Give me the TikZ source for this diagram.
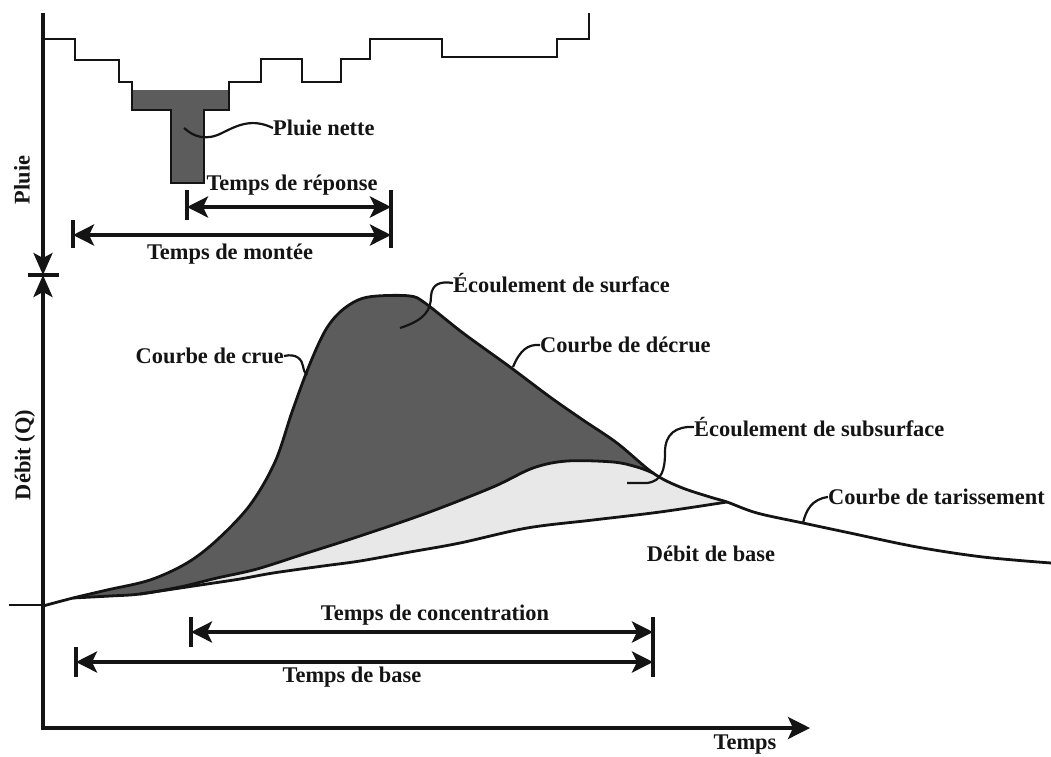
\documentclass[tikz,border=0pt]{standalone}
\usepackage{fontspec}
\setmainfont{Liberation Serif}
\usetikzlibrary{arrows.meta}
\definecolor{dark}{RGB}{92,92,92}
\definecolor{light}{RGB}{232,232,232}
\definecolor{ink}{RGB}{20,20,20}
\begin{document}
\begin{tikzpicture}[x=1pt,y=-1pt,
  lbl/.style={font=\fontsize{22.4}{25}\selectfont\bfseries, inner sep=0pt, text=ink},
  leader/.style={line width=2.2pt, ink},
  curve/.style={line width=2.8pt, line join=round, ink},
  hyeto/.style={line width=2.8pt, ink, line join=miter},
  span/.style={line width=4pt, ink, {Stealth[length=21pt,width=21pt,inset=5pt]}-{Stealth[length=21pt,width=21pt,inset=5pt]}},
  bar/.style={line width=3.2pt, ink},
  axis/.style={line width=3.4pt, ink},
  ]
\useasboundingbox (0,0) rectangle (1051,756);

% ---------- hyetograph ----------
\fill[dark] (132,90) rectangle (229,110);
\fill[dark] (171,108) rectangle (204,183);
\draw[hyeto] (45,39) -- (75,39) -- (75,60) -- (119,60) -- (119,82) -- (132,82) -- (132,110)
  -- (171,110) -- (171,183) -- (204,183) -- (204,110) -- (229,110) -- (229,82)
  -- (261,82) -- (261,59) -- (302,59) -- (302,82) -- (341,82) -- (341,59) -- (370,59)
  -- (370,39) -- (442,39) -- (442,57) -- (557,57) -- (557,39) -- (589,39) -- (589,13);

% ---------- axes ----------
\coordinate (atop) at (43,13);
\coordinate (amid) at (43,275);
\coordinate (aorig) at (43,728);
\coordinate (aend) at (810,728);
\draw[axis, -{Stealth[length=22pt,width=19pt,inset=5pt]}] (atop) -- (amid);
\draw[axis, -{Stealth[length=22pt,width=19pt,inset=5pt]}] (aorig) -- (amid);
\draw[axis] (28,275) -- (59,275);
\draw[axis, -{Stealth[length=22pt,width=22pt,inset=5pt]}] (41.3,728) -- (aend);

\node[lbl, rotate=90] (pluie) at (22,180) {Pluie};
\node[lbl, rotate=90] (debit) at (25,455) {Débit (Q)};
\node[lbl] (temps) at (745,745) {Temps};

% ---------- hydrograph fills ----------
\fill[dark] plot[smooth, tension=0.55] coordinates {(73,598) (107,590) (150,580) (187,563) (217,540) (250,505) (275,462) (292,412) (309,366) (325,331) (340,312) (358,300) (377,296) (410,296) (425,303) (463,333) (510,367) (550,397) (583,420) (617,443) (653,473)}
  -- plot[smooth, tension=0.55] coordinates {(653,473) (637,467) (613,462) (567,461) (533,468) (493,487) (427,513) (360,536) (307,553) (257,569) (217,578) (180,587) (140,594) (110,596) (73,598)} -- cycle;
\fill[light] plot[smooth, tension=0.55] coordinates {(140,594) (180,587) (217,578) (257,569) (307,553) (360,536) (427,513) (493,487) (533,468) (567,461) (613,462) (637,467) (653,473)}
  -- plot[smooth, tension=0.55] coordinates {(653,473) (680,487) (710,497) (727,502)}
  -- plot[smooth, tension=0.55] coordinates {(727,502) (660,512) (593,520) (527,528) (460,543) (410,552) (360,561) (323,566) (273,573) (240,579) (207,584) (140,594)} -- cycle;

% ---------- hydrograph lines ----------
\draw[curve] (9,605) -- (43,605);
\draw[curve] plot[smooth, tension=0.55] coordinates {(43,606) (73,598) (107,590) (150,580) (187,563) (217,540) (250,505) (275,462) (292,412) (309,366) (325,331) (340,312) (358,300) (377,296) (410,296) (425,303) (463,333) (510,367) (550,397) (583,420) (617,443) (653,473) (680,487) (710,497) (727,502) (757,513) (803,523) (850,533) (917,547) (983,557) (1051,563)};
\draw[curve] plot[smooth, tension=0.55] coordinates {(73,598) (110,596) (140,594) (180,587) (217,578) (257,569) (307,553) (360,536) (427,513) (493,487) (533,468) (567,461) (613,462) (637,467) (653,473)};
\draw[curve] plot[smooth, tension=0.55] coordinates {(140,594) (207,584) (240,579) (273,573) (323,566) (360,561) (410,552) (460,543) (527,528) (593,520) (660,512) (727,502)};

% ---------- labels with leaders ----------
\node[lbl, anchor=west] (pnette) at (273,128) {Pluie nette};
\coordinate (pn0) at (184,128);
\draw[leader] (pn0) .. controls (194,137) and (206,141) .. (222,133) .. controls (238,125) and (252,118) .. (pnette.west);

\node[lbl, anchor=east] (crue) at (284,356) {Courbe de crue};
\coordinate (cr0) at (307,375);
\draw[leader] (crue.east) .. controls (297,353) and (302,360) .. (303,366) .. controls (304,371) .. (cr0);

\node[lbl, anchor=west] (surf) at (453,283) {Écoulement de surface};
\coordinate (sf0) at (400,328);
\draw[leader] (sf0) .. controls (425,320) and (431,310) .. (431,296) .. controls (432,284) and (440,281) .. (surf.west);

\node[lbl, anchor=west] (decrue) at (540,345) {Courbe de décrue};
\coordinate (dc0) at (513,367);
\draw[leader] (dc0) .. controls (520,350) and (528,344) .. (decrue.west);

\node[lbl, anchor=west] (subs) at (694,427) {Écoulement de subsurface};
\coordinate (ss0) at (627,483);
\draw[leader] (ss0) -- (647,483) .. controls (662,481) and (665,470) .. (665,452) .. controls (665,434) and (676,426) .. (subs.west);

\node[lbl, anchor=west] (tar) at (828,497) {Courbe de tarissement};
\coordinate (tr0) at (803,523);
\draw[leader] (tr0) .. controls (806,510) and (812,499) .. (tar.west);

\node[lbl] (dbase) at (711,554) {Débit de base};

% ---------- time spans ----------
\node[lbl] (treponse) at (292,185) {Temps de réponse};
\node[lbl] (tmontee) at (230,254) {Temps de montée};
\coordinate (r1) at (187,207); \coordinate (r2) at (391,207);
\coordinate (m1) at (73,235); \coordinate (m2) at (391,235);
\draw[bar] (187,190) -- (187,220);
\draw[bar] (391,190) -- (391,248);
\draw[bar] (73,220) -- (73,248);
\draw[span] (r1) -- (r2);
\draw[span] (m1) -- (m2);

\node[lbl] (tconc) at (435,615) {Temps de concentration};
\node[lbl] (tbase) at (352,677) {Temps de base};
\coordinate (c1) at (191,632); \coordinate (c2) at (653,632);
\coordinate (b1) at (76,662); \coordinate (b2) at (653,662);
\draw[bar] (191,617) -- (191,647);
\draw[bar] (653,617) -- (653,677);
\draw[bar] (76,647) -- (76,677);
\draw[span] (c1) -- (c2);
\draw[span] (b1) -- (b2);
\end{tikzpicture}
\end{document}
